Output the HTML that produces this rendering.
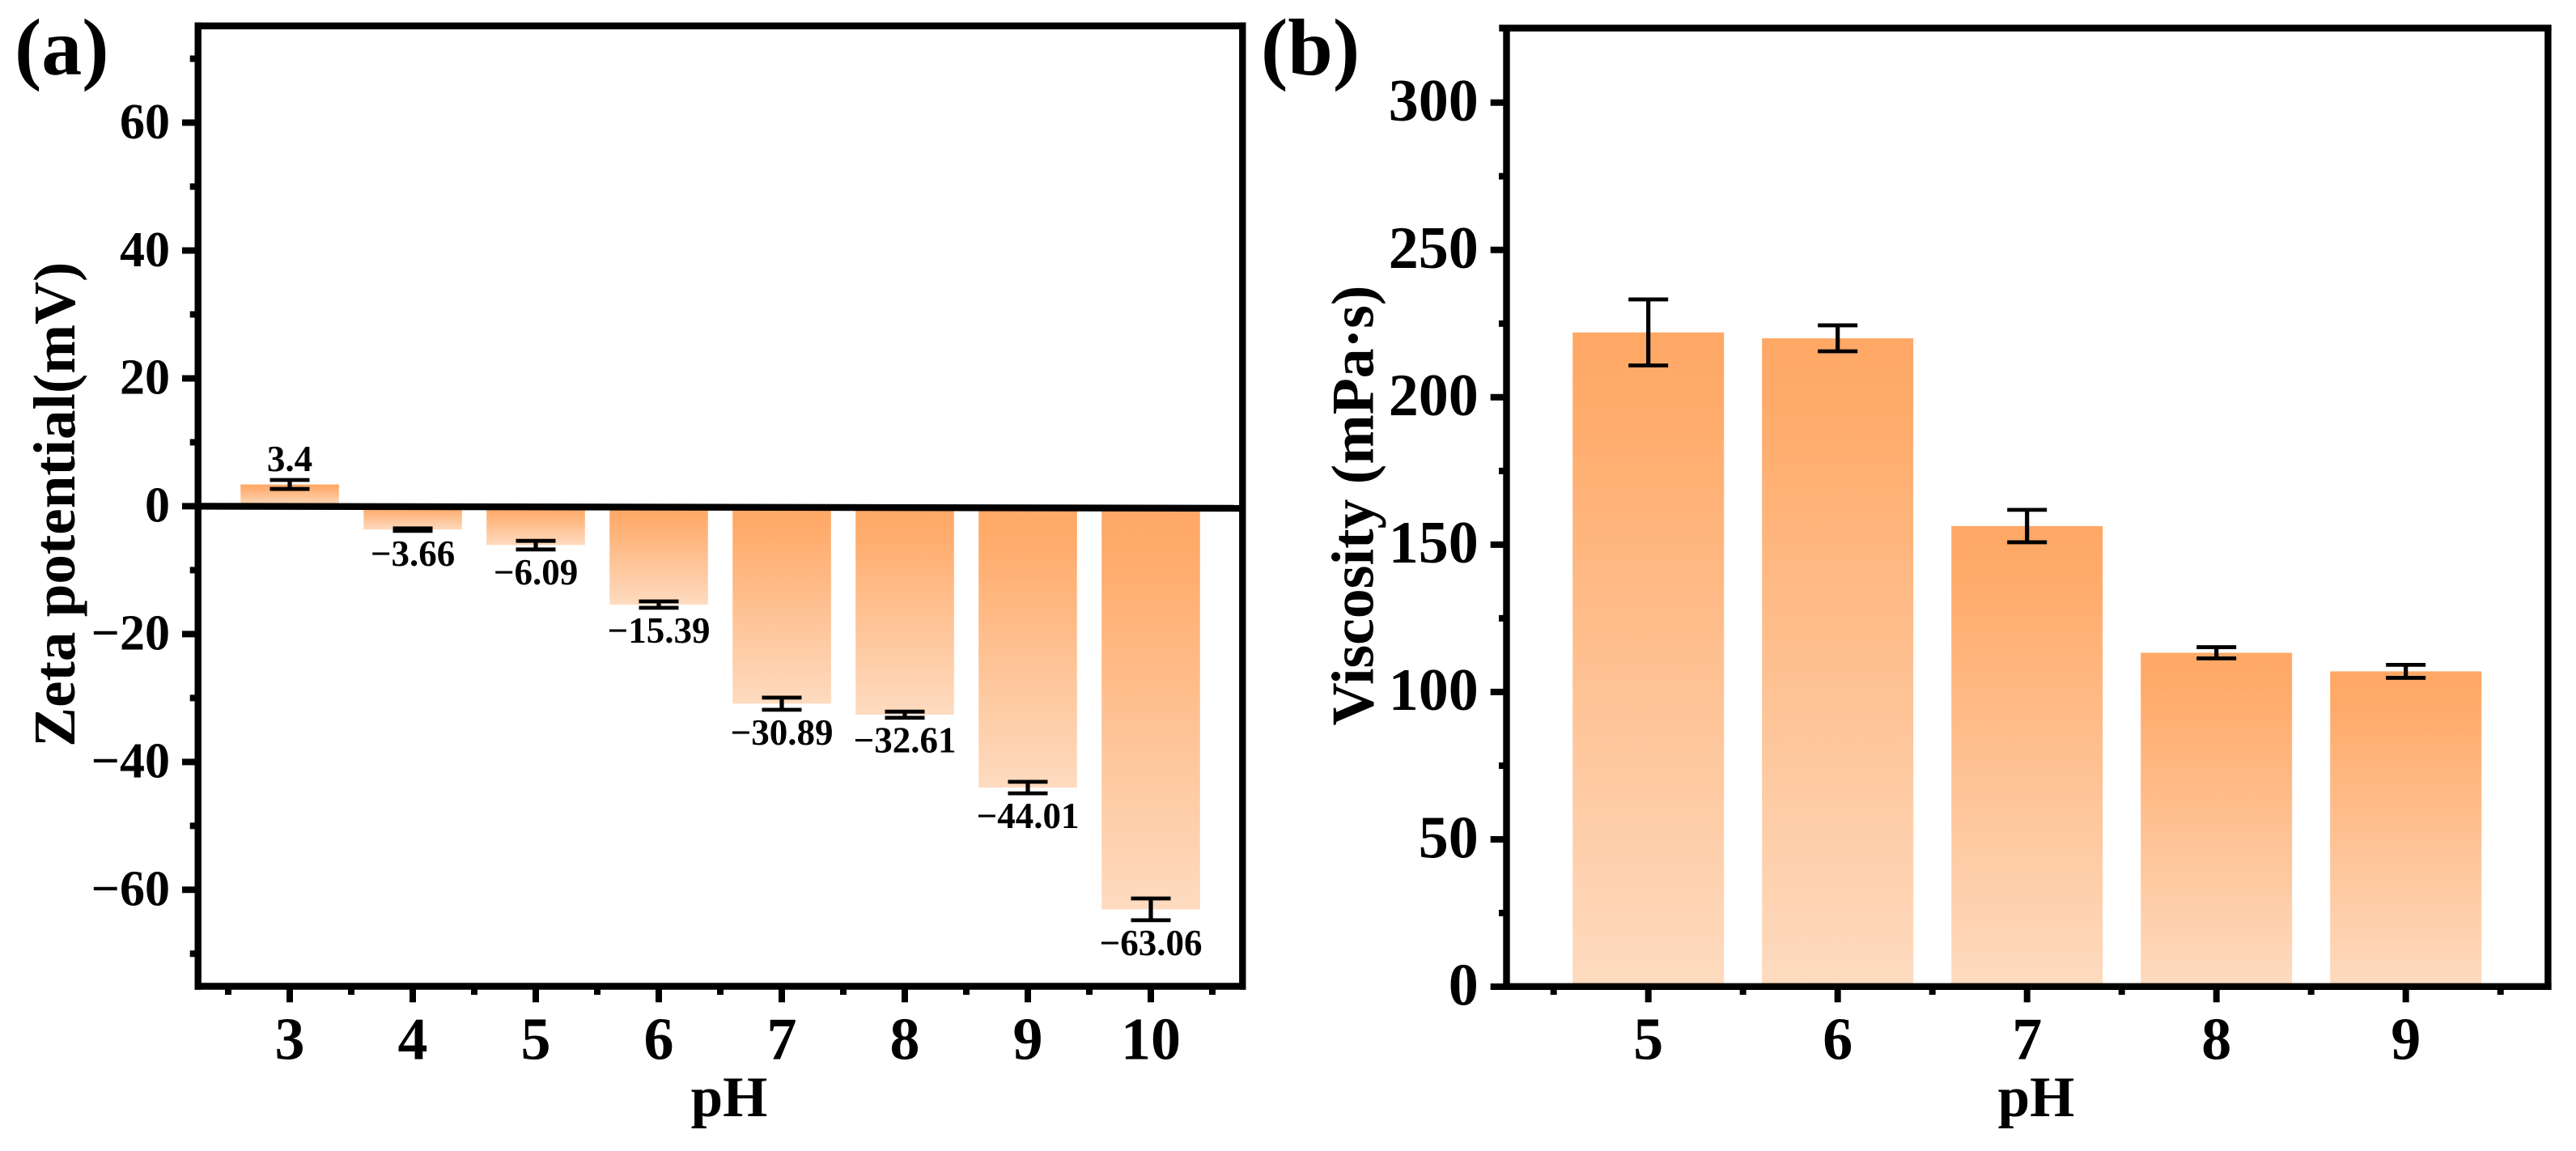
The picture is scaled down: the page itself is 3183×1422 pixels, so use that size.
<!DOCTYPE html>
<html lang="en">
<head>
<meta charset="utf-8">
<title>Zeta potential and viscosity versus pH</title>
<style>
  html, body { margin: 0; padding: 0; background: #fff; }
  svg { display: block; }
  text { font-family: "Liberation Serif", "Times New Roman", serif; font-weight: bold; fill: #000; }
</style>
</head>
<body>
<svg id="figure" xmlns="http://www.w3.org/2000/svg" width="3183" height="1422" viewBox="0 0 3183 1422">
  <defs>
    <linearGradient id="barFill" x1="0" y1="0" x2="0" y2="1">
      <stop offset="0" stop-color="#FFA866"/>
      <stop offset="0.1" stop-color="#FFAA69"/>
      <stop offset="1" stop-color="#FEDBC0"/>
    </linearGradient>
  </defs>
  <rect width="3183" height="1422" fill="#fff"/>
  <text x="18" y="92" font-size="100">(a)</text>
  <text x="1558" y="92" font-size="100">(b)</text>
  <text transform="translate(92 922.7) rotate(-90)" font-size="73" textLength="599" lengthAdjust="spacingAndGlyphs">Zeta potential(mV)</text>
  <text transform="translate(1696.4 896.5) rotate(-90)" font-size="74" textLength="544" lengthAdjust="spacingAndGlyphs">Viscosity (mPa·s)</text>
  <text x="901" y="1379" font-size="71" text-anchor="middle">pH</text>
  <text x="2516" y="1379" font-size="71" text-anchor="middle">pH</text>
  <g id="chartA"></g>
  <g id="chartB"></g>
</svg>
<script>
// Panel (a) data
const zetaCategories = [3, 4, 5, 6, 7, 8, 9, 10];
const zetaValues = [3.4, -3.66, -6.09, -15.39, -30.89, -32.61, -44.01, -63.06];
const zetaErrors = [0.7, 0.2, 0.67, 0.5, 0.95, 0.48, 0.9, 1.7];
const zetaYMajorTicks = [60, 40, 20, 0, -20, -40, -60];
const zetaYMinorTicks = [70, 50, 30, 10, -10, -30, -50, -70];
const zetaXMinorTicks = [2.5, 3.5, 4.5, 5.5, 6.5, 7.5, 8.5, 9.5, 10.5];

// Panel (b) data
const viscosityCategories = [5, 6, 7, 8, 9];
const viscosityValues = [222, 220, 156.3, 113.3, 107];
const viscosityErrors = [11.2, 4.4, 5.5, 1.9, 2.2];
const viscosityYMajorTicks = [300, 250, 200, 150, 100, 50, 0];
const viscosityYMinorTicks = [275, 225, 175, 125, 75, 25];
const viscosityXMinorTicks = [4.5, 5.5, 6.5, 7.5, 8.5, 9.5];

const NS = 'http://www.w3.org/2000/svg';
const fmt = v => String(v).replace('-', '\u2212');

function addLine(parent, name, x1, y1, x2, y2, w) {
  const el = document.createElementNS(NS, 'line');
  el.setAttribute('x1', x1);
  el.setAttribute('y1', y1);
  el.setAttribute('x2', x2);
  el.setAttribute('y2', y2);
  el.setAttribute('stroke', '#000');
  el.setAttribute('stroke-width', w);
  
  
  parent.appendChild(el);
  return el;
}
function addText(parent, name, x, y, size, anchor, str) {
  const el = document.createElementNS(NS, 'text');
  el.setAttribute('x', x);
  el.setAttribute('y', y);
  el.setAttribute('font-size', size);
  el.setAttribute('text-anchor', anchor);
  
  
  el.textContent = str;
  parent.appendChild(el);
  return el;
}
function addBar(parent, name, x, top, w, h) {
  const el = document.createElementNS(NS, 'rect');
  el.setAttribute('x', x);
  el.setAttribute('y', top);
  el.setAttribute('width', w);
  el.setAttribute('height', h);
  el.setAttribute('fill', 'url(#barFill)');
  
  
  parent.appendChild(el);
  return el;
}
function addErrorBar(parent, name, cx, yHi, yLo) {
  const capHalf = 24.5;
  addLine(parent, name + '-stem', cx, yHi, cx, yLo, 5.2);
  addLine(parent, name + '-cap-top', cx - capHalf, yHi, cx + capHalf, yHi, 4.8);
  addLine(parent, name + '-cap-bottom', cx - capHalf, yLo, cx + capHalf, yLo, 4.8);
}

function drawFrame(g, prefix, L, R, T, B, x, y, xMajor, xMinor, yMajor, yMinor, yFont, yBaseShift, yLabelRight, yMajorLeft, yMinorLeft) {
  const sw = 8.4;
  yMinor.forEach(v => addLine(g, prefix + '-y-minor-tick', yMinorLeft, y(v), L, y(v), 8));
  yMajor.forEach(v => {
    addLine(g, prefix + '-y-major-tick', yMajorLeft, y(v), L, y(v), 8);
    addText(g, prefix + '-y-tick-label', yLabelRight, y(v) + yBaseShift, yFont, 'end', fmt(v));
  });
  xMinor.forEach(v => addLine(g, prefix + '-x-minor-tick', x(v), B, x(v), 1229, 8));
  xMajor.forEach(v => {
    addLine(g, prefix + '-x-major-tick', x(v), B, x(v), 1238.3, 8);
    addText(g, prefix + '-x-tick-label', x(v), 1308.4, 74, 'middle', fmt(v));
  });
  addLine(g, prefix + '-left-spine', L, T - sw / 2, L, B + sw / 2, sw);
  addLine(g, prefix + '-right-spine', R, T - sw / 2, R, B + sw / 2, sw);
  addLine(g, prefix + '-top-spine', L - sw / 2 - (prefix === 'viscosity' ? 5 : 0), T, R + sw / 2, T, sw);
  addLine(g, prefix + '-bottom-spine', L - sw / 2, B, R + sw / 2, B, sw);
}

// Panel (a)
(function () {
  const g = document.getElementById('chartA');
  const L = 244.7, R = 1535.3, T = 32, B = 1218.5;
  const x = v => 358 + 152 * (v - 3);
  const y = v => 625.4 - 7.898 * v;
  const barW = 121.6;
  zetaCategories.forEach((c, i) => {
    const v = zetaValues[i];
    const top = Math.min(y(0), y(v));
    addBar(g, 'zeta-bar-ph' + c, x(c) - barW / 2, top, barW, Math.abs(y(v) - y(0)));
  });
  zetaCategories.forEach((c, i) => {
    const v = zetaValues[i], e = zetaErrors[i];
    addErrorBar(g, 'zeta-error-ph' + c, x(c), y(v + e), y(v - e));
    const base = v >= 0 ? y(v + e) - 11 : y(v - e) + 43;
    addText(g, 'zeta-value-label-ph' + c, x(c), base, 45, 'middle', fmt(v));
  });
  addLine(g, 'zero-line', L, y(0), R, y(0) + 2.6, 8.4);
  drawFrame(g, 'zeta', L, R, T, B, x, y, zetaCategories, zetaXMinorTicks, zetaYMajorTicks, zetaYMinorTicks, 62, 19.3, 210, 225, 234.7);
})();

// Panel (b)
(function () {
  const g = document.getElementById('chartB');
  const L = 1861.5, R = 3148.4, T = 34.7, B = 1218.8;
  const x = v => 2036.7 + 234 * (v - 5);
  const y = v => 1219 - 3.641 * v;
  const barW = 187;
  viscosityCategories.forEach((c, i) => {
    const v = viscosityValues[i];
    addBar(g, 'viscosity-bar-ph' + c, x(c) - barW / 2, y(v), barW, y(0) - y(v));
  });
  viscosityCategories.forEach((c, i) => {
    const v = viscosityValues[i], e = viscosityErrors[i];
    addErrorBar(g, 'viscosity-error-ph' + c, x(c), y(v + e), y(v - e));
  });
  drawFrame(g, 'viscosity', L, R, T, B, x, y, viscosityCategories, viscosityXMinorTicks, viscosityYMajorTicks, viscosityYMinorTicks, 74, 22.3, 1826.7, 1841.7, 1852);
})();
</script>
</body>
</html>
